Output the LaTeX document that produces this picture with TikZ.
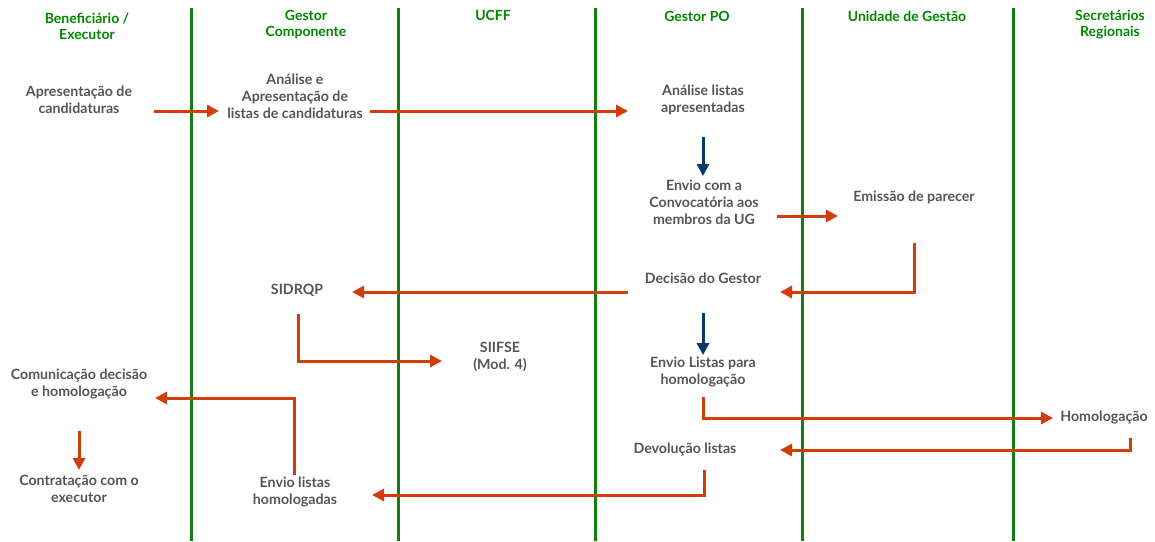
\documentclass[tikz,border=0pt]{standalone}
\usepackage{fontspec}
\setmainfont{Lato}
\usetikzlibrary{arrows.meta,calc}
\definecolor{lanegreen}{RGB}{16,128,16}
\definecolor{headgreen}{RGB}{0,135,0}
\definecolor{txtgray}{RGB}{85,85,85}
\definecolor{flowred}{RGB}{208,62,12}
\definecolor{flowblue}{RGB}{10,55,105}
\begin{document}
\begin{tikzpicture}[x=1pt,y=-1pt,
  lane/.style={draw=lanegreen,line width=3pt},
  head/.style={text=headgreen,font=\fontsize{14}{16}\selectfont\bfseries,align=center,inner sep=0pt},
  lbl/.style={text=txtgray,font=\fontsize{14.2}{17}\selectfont\bfseries,align=center,inner sep=0pt},
  rarr/.style={draw=flowred,line width=3pt,-{Triangle[length=12pt,width=12pt]}},
  barr/.style={draw=flowblue,line width=3pt,-{Triangle[length=12pt,width=12pt]}}]
\useasboundingbox (0,0) rectangle (1155,541);
% lanes
\foreach \x/\n in {191/l1,398/l2,595/l3,802/l4,1013/l5}{
  \coordinate (\n t) at (\x,8);
  \coordinate (\n b) at (\x,541);
  \draw[lane] (\n t) -- (\n b);
}
% headers
\node[head] (h1) at (87,26) {Beneficiário /\\Executor};
\node[head] (h2) at (306,25) {Gestor\\Componente};
\node[head] (h3) at (493,15) {UCFF};
\node[head] (h4) at (697,16) {Gestor PO};
\node[head] (h5) at (907,16) {Unidade de Gestão};
\node[head] (h6) at (1110,25) {Secretários\\Regionais};
% nodes
\node[lbl] (A1) at (79,100) {Apresentação de\\candidaturas};
\node[lbl] (A2) at (295,96) {Análise e\\Apresentação de\\listas de candidaturas};
\node[lbl] (A3) at (703,100) {Análise listas\\apresentadas};
\node[lbl] (A4) at (704,202) {Envio com a\\Convocatória aos\\membros da UG};
\node[lbl] (A5) at (914,197) {Emissão de parecer};
\node[lbl] (A6) at (703,278) {Decisão do Gestor};
\node[lbl] (A7) at (297,290) {SIDRQP};
\node[lbl] (A8) at (500,357) {SIIFSE\\(Mod. 4)};
\node[lbl] (A9) at (703,372) {Envio Listas para\\homologação};
\node[lbl] (A10) at (1104,417) {Homologação};
\node[lbl] (A11) at (685,449) {Devolução listas};
\node[lbl] (A12) at (295,492) {Envio listas\\homologadas};
\node[lbl] (A13) at (79,384) {Comunicação decisão\\e homologação};
\node[lbl] (A14) at (79,489) {Contratação com o\\executor};
% connectors
\draw[rarr] ($(A1)+(75,11)$) -- ($(A2)+(-76,15)$);
\draw[rarr] ($(A2)+(75,15)$) -- ($(A3)+(-75,11)$);
\draw[barr] ($(A3)+(0,37)$) -- ($(A4)+(-1,-26)$);
\draw[rarr] ($(A4)+(73,14)$) -- ($(A5)+(-76,19)$);
\draw[rarr] ($(A5)+(0,46)$) |- ($(A6)+(77,14)$);
\draw[rarr] ($(A6)+(-75,14)$) -- ($(A7)+(55,2)$);
\draw[barr] ($(A6)+(0,35)$) -- ($(A9)+(0,-17)$);
\draw[rarr] ($(A7)+(1,24)$) |- ($(A8)+(-58,4)$);
\draw[rarr] ($(A9)+(0,25)$) |- ($(A10)+(-51,1)$);
\draw[rarr] ($(A10)+(26,21)$) |- ($(A11)+(95,1)$);
\draw[rarr] ($(A11)+(19,21)$) |- ($(A12)+(77,3)$);
\draw[rarr] ($(A12)+(-1,-17)$) |- ($(A13)+(76,14)$);
\draw[rarr] ($(A13)+(0,47)$) -- ($(A14)+(0,-19)$);
\end{tikzpicture}
\end{document}
